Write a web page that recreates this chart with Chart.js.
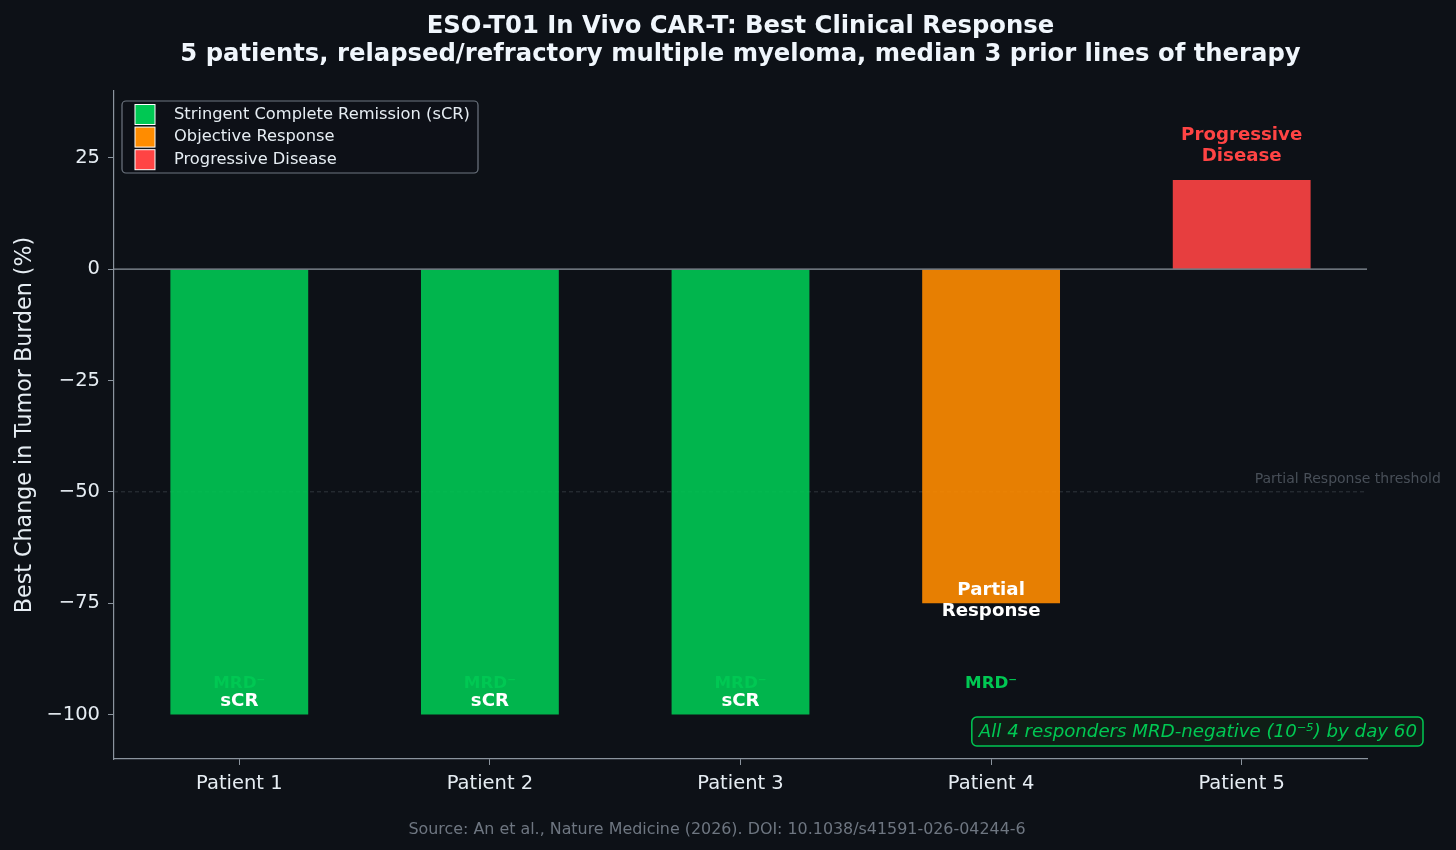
<!DOCTYPE html>
<html>
<head>
<meta charset="utf-8">
<script src="https://cdn.jsdelivr.net/npm/chart.js@4.4.1/dist/chart.umd.min.js"></script>
<style>
  html, body { margin: 0; padding: 0; background: #0d1117; }
  #wrap { width: 1456px; height: 850px; }
</style>
</head>
<body>
<div id="wrap"><canvas id="chart" width="1456" height="850"></canvas></div>
<script>
const patients = ['Patient 1', 'Patient 2', 'Patient 3', 'Patient 4', 'Patient 5'];
const bestChange = [-100, -100, -100, -75, 20];
const responseType = [0, 0, 0, 1, 2];
const barLabels = ['sCR', 'sCR', 'sCR', 'Partial\nResponse', 'Progressive\nDisease'];
const mrdLabels = ['MRD⁻', 'MRD⁻', 'MRD⁻', 'MRD⁻', ''];
const legendLabels = ['Stringent Complete Remission (sCR)', 'Objective Response', 'Progressive Disease'];
const legendColors = ['#00c853', '#ff8c00', '#ff4444'];
const barColors = ['rgba(0,200,83,0.9)', 'rgba(255,140,0,0.9)', 'rgba(255,68,68,0.9)'];
const yTicks = [-100, -75, -50, -25, 0, 25];
const prThreshold = -50;

const titleLines = ['ESO-T01 In Vivo CAR-T: Best Clinical Response',
  '5 patients, relapsed/refractory multiple myeloma, median 3 prior lines of therapy'];
const sourceText = 'Source: An et al., Nature Medicine (2026). DOI: 10.1038/s41591-026-04244-6';
const noteText = 'All 4 responders MRD-negative (10⁻⁵) by day 60';

const FONT = '"DejaVu Sans", Verdana, sans-serif';
const BG = '#0d1117';
const FG = '#e6edf3';
const SPINE = '#8b949e';

function roundRect(ctx, x, y, w, h, r) {
  ctx.beginPath();
  ctx.moveTo(x + r, y);
  ctx.arcTo(x + w, y, x + w, y + h, r);
  ctx.arcTo(x + w, y + h, x, y + h, r);
  ctx.arcTo(x, y + h, x, y, r);
  ctx.arcTo(x, y, x + w, y, r);
  ctx.closePath();
}

const decor = {
  id: 'decor',
  beforeDraw(chart) {
    const ctx = chart.ctx;
    ctx.save();
    ctx.fillStyle = BG;
    ctx.fillRect(0, 0, chart.width, chart.height);
    ctx.restore();
  },
  beforeDatasetsDraw(chart) {
    const { ctx, chartArea: a, scales: { y } } = chart;
    const py = y.getPixelForValue(prThreshold);
    ctx.save();
    ctx.strokeStyle = '#30363d';
    ctx.lineWidth = 1;
    ctx.setLineDash([4, 3]);
    ctx.beginPath();
    ctx.moveTo(a.left, py);
    ctx.lineTo(a.right, py);
    ctx.stroke();
    ctx.restore();
  },
  afterDatasetsDraw(chart) {
    const { ctx, chartArea: a, scales: { x, y } } = chart;
    ctx.save();
    // zero line
    const y0 = y.getPixelForValue(0);
    ctx.strokeStyle = SPINE;
    ctx.lineWidth = 1.2;
    ctx.beginPath();
    ctx.moveTo(a.left, y0);
    ctx.lineTo(a.right, y0);
    ctx.stroke();

    // threshold label
    ctx.font = '14px ' + FONT;
    ctx.fillStyle = '#484f58';
    ctx.textAlign = 'left';
    ctx.textBaseline = 'bottom';
    ctx.fillText('Partial Response threshold', x.getPixelForValue(4) + 13, y.getPixelForValue(prThreshold + 1.3));

    // bar labels
    ctx.textAlign = 'center';
    ctx.textBaseline = 'middle';
    bestChange.forEach((v, i) => {
      const px = x.getPixelForValue(i);
      const lines = barLabels[i].split('\n');
      ctx.font = 'bold 18.2px ' + FONT;
      if (v > 0) {
        ctx.fillStyle = '#ff4444';
        const bottom = y.getPixelForValue(v + 3);
        lines.forEach((l, k) => ctx.fillText(l, px, bottom - (lines.length - k - 0.5) * 21));
      } else {
        ctx.fillStyle = '#ffffff';
        const cy = y.getPixelForValue(v <= -100 ? v + 3 : v + 0.5);
        lines.forEach((l, k) => ctx.fillText(l, px, cy + (k - (lines.length - 1) / 2) * 21));
      }
      if (mrdLabels[i]) {
        ctx.font = 'bold 16.7px ' + FONT;
        ctx.fillStyle = '#00c853';
        ctx.fillText(mrdLabels[i], px, y.getPixelForValue(-93));
      }
    });
    ctx.restore();
  },
  afterDraw(chart) {
    const { ctx, chartArea: a } = chart;
    ctx.save();
    // title
    ctx.fillStyle = '#f0f6fc';
    ctx.font = 'bold 24.3px ' + FONT;
    ctx.textAlign = 'center';
    ctx.textBaseline = 'middle';
    const cx = (a.left + a.right) / 2;
    ctx.fillText(titleLines[0], cx, 27);
    ctx.fillText(titleLines[1], cx, 55);

    // source
    ctx.fillStyle = '#6e7681';
    ctx.font = '15.9px ' + FONT;
    ctx.fillText(sourceText, 717, 830);

    // legend
    const lx = a.left + 8, ly = a.top + 10;
    ctx.fillStyle = 'rgba(13,17,23,0.9)';
    ctx.strokeStyle = '#6e7681';
    ctx.lineWidth = 1.2;
    roundRect(ctx, lx, ly, 356, 72, 4);
    ctx.fill();
    ctx.stroke();
    ctx.textAlign = 'left';
    ctx.font = '16.3px ' + FONT;
    legendLabels.forEach((lab, i) => {
      const ry = ly + 13.5 + i * 22.6;
      ctx.fillStyle = legendColors[i];
      ctx.fillRect(lx + 13, ry - 10, 20, 20);
      ctx.strokeStyle = '#ffffff';
      ctx.lineWidth = 1;
      ctx.strokeRect(lx + 13, ry - 10, 20, 20);
      ctx.fillStyle = FG;
      ctx.fillText(lab, lx + 52, ry);
    });

    // note box
    ctx.font = 'italic 18.2px ' + FONT;
    const tw = ctx.measureText(noteText).width;
    const right = a.right + 56, by = a.bottom - 42;
    ctx.fillStyle = '#0f1e16';
    ctx.strokeStyle = '#00c853';
    ctx.lineWidth = 1.5;
    roundRect(ctx, right - tw - 13, by, tw + 13, 29, 5);
    ctx.fill();
    ctx.stroke();
    ctx.fillStyle = '#00c853';
    ctx.textAlign = 'right';
    ctx.fillText(noteText, right - 6, by + 15);
    ctx.restore();
  }
};

new Chart(document.getElementById('chart'), {
  type: 'bar',
  data: {
    labels: patients,
    datasets: [{
      data: bestChange,
      backgroundColor: responseType.map(t => barColors[t]),
      borderWidth: 0,
      categoryPercentage: 1,
      barPercentage: 0.55
    }]
  },
  options: {
    responsive: false,
    animation: false,
    layout: { padding: { left: 0, right: 89, top: 91, bottom: 51 } },
    plugins: { legend: { display: false }, tooltip: { enabled: false }, title: { display: false } },
    scales: {
      x: {
        offset: true,
        afterFit: s => { s.height = 40; },
        border: { color: SPINE, width: 1.2 },
        grid: { drawOnChartArea: false, offset: false, color: SPINE, tickLength: 6 },
        ticks: { color: FG, font: { family: FONT, size: 19.5 }, padding: 7 }
      },
      y: {
        min: -110,
        max: 40,
        afterFit: s => { s.width = 114; },
        afterBuildTicks: s => { s.ticks = yTicks.map(v => ({ value: v })); },
        border: { color: SPINE, width: 1.2 },
        grid: { drawOnChartArea: false, color: SPINE, tickLength: 6 },
        ticks: {
          color: FG,
          font: { family: FONT, size: 19.5 },
          padding: 8,
          callback: v => String(v).replace('-', '\u2212')
        },
        title: {
          display: true,
          text: 'Best Change in Tumor Burden (%)',
          color: FG,
          font: { family: FONT, size: 22.2 },
          padding: { top: 12, bottom: 0 }
        }
      }
    }
  },
  plugins: [decor]
});
</script>
</body>
</html>
